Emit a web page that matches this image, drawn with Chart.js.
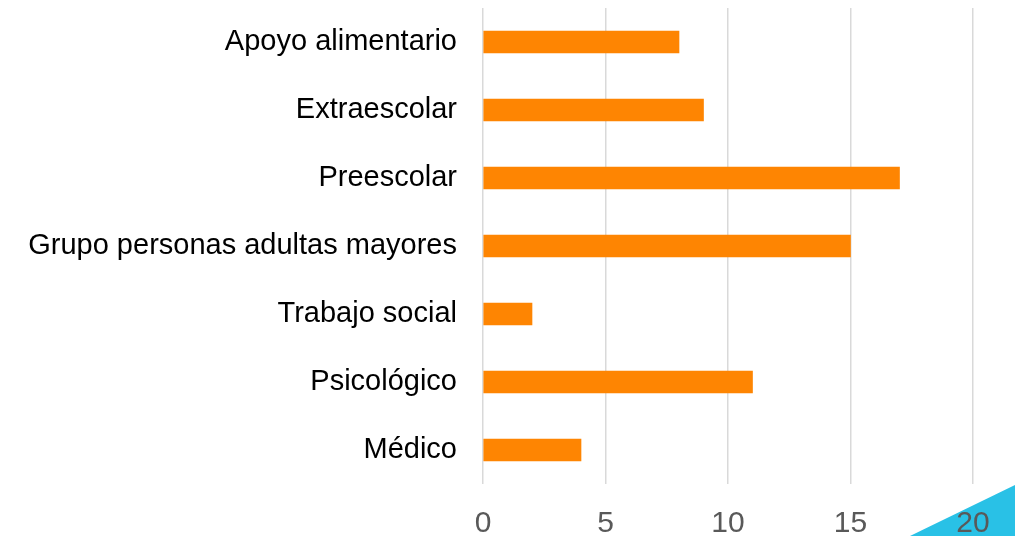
<!DOCTYPE html>
<html>
<head>
<meta charset="utf-8">
<script src="https://cdn.jsdelivr.net/npm/chart.js@4"></script>
<style>
  html, body { margin: 0; padding: 0; background: #fff; }
  #wrap { position: relative; width: 1015px; height: 536px; }
  /* slide corner decoration */
  #corner {
    position: absolute; left: 0; top: 0; width: 1015px; height: 536px;
    background: #29c1e6;
    clip-path: polygon(910px 536px, 1015px 485px, 1015px 536px);
  }
  canvas { position: relative; }
</style>
</head>
<body>
<div id="wrap">
  <div id="corner"></div>
  <canvas id="chart" width="1015" height="536"></canvas>
</div>
<script>
const categories = ['Apoyo alimentario', 'Extraescolar', 'Preescolar', 'Grupo personas adultas mayores', 'Trabajo social', 'Psicológico', 'Médico'];
const values = [8, 9, 17, 15, 2, 11, 4];
const xTicks = [0, 5, 10, 15, 20];

const ctx = document.getElementById('chart').getContext('2d');
new Chart(ctx, {
  type: 'bar',
  data: {
    labels: categories,
    datasets: [{
      data: values,
      backgroundColor: '#fe8502',
      barThickness: 22
    }]
  },
  options: {
    indexAxis: 'y',
    responsive: false,
    animation: false,
    layout: { padding: { top: 8, right: 42, left: 0, bottom: 0 } },
    plugins: { legend: { display: false }, tooltip: { enabled: false } },
    scales: {
      x: {
        min: xTicks[0],
        max: xTicks[xTicks.length - 1],
        afterBuildTicks: (scale) => { scale.ticks = xTicks.map(v => ({ value: v })); },
        afterFit: (scale) => { scale.height = 52; scale.paddingLeft = 0; scale.paddingRight = 0; },
        grid: { color: '#d9d9d9', lineWidth: 1.5, drawTicks: false },
        border: { display: false },
        ticks: { color: '#595959', padding: 22, font: { family: 'Liberation Sans', size: 30 } }
      },
      y: {
        afterFit: (scale) => { scale.width = 483; scale.paddingTop = 0; scale.paddingBottom = 0; },
        grid: { display: false, drawTicks: false },
        border: { display: false },
        ticks: { color: '#000', padding: 26, font: { family: 'Liberation Sans', size: 29 } }
      }
    }
  }
});
</script>
</body>
</html>
